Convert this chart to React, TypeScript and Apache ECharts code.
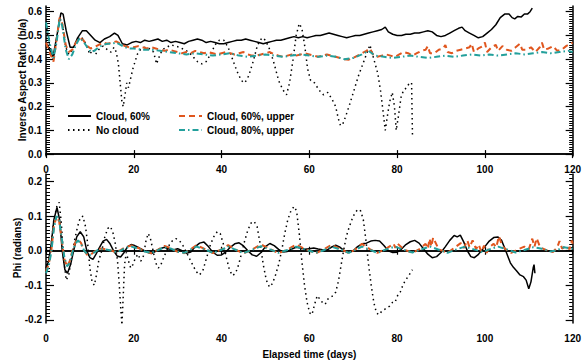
import React, { useEffect, useRef } from "react";
import * as echarts from "echarts";

// ---------- DATA (t in days, value) ----------
const xTicks = [0, 20, 40, 60, 80, 100, 120];
const topTicks = [0, 0.1, 0.2, 0.3, 0.4, 0.5, 0.6];
const botTicks = [-0.2, -0.1, 0, 0.1, 0.2];

const seriesNames = ["Cloud, 60%", "No cloud", "Cloud, 60%, upper", "Cloud, 80%, upper"];
const topYName = "Inverse Aspect Ratio (b/a)";
const botYName = "Phi (radians)";
const xName = "Elapsed time (days)";

// Top panel: inverse aspect ratio (b/a)
const cloud60Top: number[][] = [
  [0, 0.47], [0.8, 0.44], [1.6, 0.41], [2.5, 0.5], [3.4, 0.595], [3.9, 0.59], [4.6, 0.52], [5.5, 0.45], [6.3, 0.45],
  [7.2, 0.49], [8.3, 0.52], [9.2, 0.52], [10.2, 0.5], [11.2, 0.48], [12.3, 0.47], [13.3, 0.485], [14.5, 0.495],
  [15.6, 0.51], [16.4, 0.5], [17.4, 0.465], [18.5, 0.46], [19.5, 0.47], [20.5, 0.475], [21.5, 0.47], [22.5, 0.48],
  [23.5, 0.475], [24.5, 0.48], [25.5, 0.485], [26.5, 0.475], [27.5, 0.48], [28.5, 0.47], [29.5, 0.475], [30.5, 0.47],
  [31.5, 0.465], [32.5, 0.475], [33.5, 0.48], [34.5, 0.485], [35.5, 0.48], [36.5, 0.47], [37.5, 0.475], [38.5, 0.47],
  [39.5, 0.465], [40.5, 0.465], [41.5, 0.47], [42.5, 0.475], [43.5, 0.48], [44.5, 0.48], [45.5, 0.485], [46.5, 0.48],
  [47.5, 0.475], [48.5, 0.47], [49.5, 0.465], [50.5, 0.47], [51.5, 0.475], [52.5, 0.48], [53.5, 0.48], [54.5, 0.485],
  [55.5, 0.49], [56.5, 0.495], [57.5, 0.49], [58.5, 0.495], [59.5, 0.49], [60.5, 0.495], [61.5, 0.5], [62.5, 0.5],
  [63.5, 0.505], [64.5, 0.51], [65.5, 0.505], [66.5, 0.5], [67.5, 0.495], [68.5, 0.49], [69.5, 0.495], [70.5, 0.5],
  [71.5, 0.5], [72.5, 0.505], [73.5, 0.51], [74.5, 0.515], [75.5, 0.52], [76.5, 0.525], [77.3, 0.535], [78, 0.515],
  [79, 0.505], [80, 0.5], [81, 0.5], [82, 0.505], [83, 0.505], [84, 0.51], [85, 0.51], [86, 0.515], [87, 0.52],
  [88, 0.515], [89, 0.5], [90, 0.495], [91, 0.5], [92, 0.51], [93, 0.52], [94, 0.53], [94.8, 0.535], [95.5, 0.52],
  [96.5, 0.51], [97.5, 0.5], [98.5, 0.49], [99.5, 0.495], [100.5, 0.51], [101.5, 0.525], [102.5, 0.545],
  [103.5, 0.575], [104.5, 0.59], [105.5, 0.59], [106.2, 0.575], [106.8, 0.57], [107.5, 0.58], [108.3, 0.578],
  [109, 0.59], [109.7, 0.59], [110.3, 0.6], [110.8, 0.615],
];

const noCloudTop: number[][] = [
  [0, 0.55], [0.8, 0.46], [1.7, 0.4], [2.4, 0.48], [3.1, 0.575], [3.7, 0.55], [4.5, 0.45], [5.2, 0.42], [6, 0.44],
  [6.8, 0.47], [7.7, 0.495], [8.5, 0.485], [9.4, 0.45], [10, 0.42], [10.6, 0.44], [11.3, 0.42], [12, 0.44],
  [13, 0.455], [14, 0.44], [14.8, 0.43], [15.5, 0.45], [16, 0.43], [16.5, 0.38], [16.9, 0.3], [17.3, 0.22],
  [17.6, 0.2], [18, 0.25], [18.4, 0.3], [18.8, 0.28], [19.3, 0.32], [19.8, 0.36], [20.3, 0.39], [20.8, 0.42],
  [21.5, 0.44], [22.5, 0.45], [23.5, 0.445], [24.5, 0.43], [25.2, 0.38], [25.8, 0.41], [26.5, 0.44], [27.5, 0.45],
  [28.5, 0.46], [29.5, 0.455], [30.5, 0.45], [31.5, 0.44], [32.5, 0.43], [33.5, 0.41], [34.5, 0.39], [35.5, 0.38],
  [36.5, 0.39], [37.5, 0.42], [38.5, 0.46], [39.5, 0.48], [40.5, 0.48], [41.5, 0.45], [42.5, 0.4], [43.5, 0.35],
  [44.5, 0.31], [45.3, 0.3], [46.2, 0.33], [47.2, 0.39], [48.2, 0.46], [49.2, 0.49], [50, 0.48], [51, 0.44],
  [52, 0.38], [53, 0.31], [54, 0.27], [54.8, 0.25], [55.5, 0.3], [56.3, 0.4], [57, 0.5], [57.7, 0.55], [58.3, 0.53],
  [59, 0.45], [59.6, 0.36], [60.3, 0.31], [61.2, 0.3], [62.2, 0.27], [63.2, 0.25], [64.2, 0.26], [65.2, 0.23],
  [66, 0.2], [66.6, 0.15], [67.1, 0.12], [67.6, 0.125], [68.3, 0.16], [69.2, 0.21], [70.2, 0.27], [71.2, 0.33],
  [72.2, 0.38], [73.2, 0.43], [73.8, 0.46], [74.4, 0.42], [75, 0.38], [75.6, 0.34], [76.2, 0.27], [76.8, 0.18],
  [77.3, 0.1], [77.7, 0.15], [78.3, 0.22], [78.9, 0.26], [79.4, 0.2], [79.8, 0.1], [80.3, 0.16], [80.9, 0.24],
  [81.5, 0.27], [82.2, 0.28], [82.8, 0.3], [83.3, 0.3], [83.5, 0.08],
];

const cloud60UpperTop: number[][] = [
  [0, 0.47], [0.8, 0.43], [1.7, 0.39], [2.4, 0.48], [3.1, 0.575], [3.7, 0.55], [4.5, 0.46], [5.2, 0.43], [6, 0.44],
  [6.8, 0.47], [7.7, 0.49], [8.5, 0.48], [9.4, 0.455], [10.2, 0.445], [11, 0.45], [12, 0.46], [13, 0.47],
  [14, 0.465], [15, 0.47], [16, 0.475], [17, 0.465], [18, 0.455], [19, 0.45], [20, 0.45], [21, 0.455], [22, 0.45],
  [23, 0.445], [24, 0.45], [25, 0.445], [26, 0.44], [27, 0.435], [28, 0.44], [29, 0.435], [30, 0.43], [31, 0.425],
  [32, 0.43], [33, 0.425], [34, 0.435], [35, 0.43], [36, 0.425], [37, 0.43], [38, 0.425], [39, 0.42], [40, 0.425],
  [41, 0.43], [42, 0.425], [43, 0.42], [44, 0.425], [45, 0.43], [46, 0.42], [47, 0.415], [48, 0.415], [49, 0.42],
  [50, 0.425], [51, 0.43], [52, 0.42], [53, 0.415], [54, 0.41], [55, 0.415], [56, 0.42], [57, 0.415], [58, 0.42],
  [59, 0.425], [60, 0.42], [61, 0.415], [62, 0.41], [63, 0.415], [64, 0.42], [65, 0.415], [66, 0.41], [67, 0.405],
  [68, 0.4], [69, 0.398], [70, 0.405], [71, 0.415], [72, 0.425], [73, 0.435], [73.8, 0.445], [74.5, 0.42],
  [75.5, 0.41], [76.5, 0.415], [77.5, 0.42], [78.5, 0.415], [79.5, 0.41], [80.5, 0.42], [81.5, 0.43], [82.5, 0.425],
  [83.5, 0.415], [84.5, 0.425], [85.5, 0.435], [86.5, 0.44], [87, 0.455], [87.5, 0.425], [88.5, 0.425],
  [89.5, 0.44], [90.5, 0.445], [91, 0.46], [91.5, 0.43], [92.5, 0.425], [93.5, 0.435], [94.5, 0.44], [95.5, 0.445],
  [96.5, 0.45], [97, 0.465], [97.5, 0.43], [98.5, 0.445], [99.5, 0.455], [100, 0.47], [100.5, 0.43], [101.5, 0.45],
  [102.5, 0.46], [103, 0.435], [104, 0.455], [105, 0.44], [106, 0.435], [107, 0.45], [108, 0.465], [108.5, 0.44],
  [109.5, 0.44], [110.5, 0.45], [111.5, 0.43], [112.5, 0.45], [113, 0.47], [113.5, 0.44], [114.5, 0.445],
  [115.5, 0.455], [116.5, 0.435], [117.5, 0.44], [118.5, 0.455], [119.5, 0.465], [120, 0.47],
];

const cloud80UpperTop: number[][] = [
  [0, 0.555], [0.8, 0.47], [1.7, 0.405], [2.4, 0.47], [3.1, 0.57], [3.7, 0.54], [4.5, 0.44], [5.2, 0.4], [6, 0.42],
  [6.8, 0.46], [7.7, 0.49], [8.5, 0.475], [9.4, 0.45], [10.2, 0.43], [11, 0.435], [12, 0.45], [13, 0.46],
  [14, 0.465], [15, 0.465], [16, 0.47], [17, 0.46], [18, 0.45], [19, 0.445], [20, 0.445], [22, 0.44], [24, 0.44],
  [26, 0.435], [28, 0.43], [30, 0.425], [32, 0.42], [34, 0.425], [36, 0.42], [38, 0.415], [40, 0.42], [42, 0.425],
  [44, 0.415], [46, 0.41], [48, 0.415], [50, 0.42], [52, 0.415], [54, 0.41], [56, 0.415], [58, 0.42], [60, 0.415],
  [62, 0.41], [64, 0.415], [66, 0.41], [68, 0.4], [70, 0.405], [72, 0.42], [73.5, 0.435], [75, 0.415], [77, 0.41],
  [79, 0.405], [81, 0.41], [83, 0.415], [85, 0.41], [87, 0.405], [89, 0.41], [91, 0.415], [93, 0.41], [95, 0.415],
  [97, 0.42], [99, 0.415], [101, 0.42], [103, 0.415], [105, 0.42], [107, 0.425], [109, 0.42], [111, 0.425],
  [113, 0.43], [115, 0.425], [117, 0.43], [119, 0.435], [120, 0.43],
];

// Bottom panel: Phi (radians)
const cloud60Bot: number[][] = [
  [0, -0.05], [0.6, -0.03], [1.2, 0.02], [1.8, 0.09], [2.5, 0.125], [3.1, 0.09], [3.7, 0], [4.3, -0.055],
  [4.9, -0.065], [5.6, -0.04], [6.3, 0], [7, 0.04], [7.8, 0.055], [8.6, 0.04], [9.3, 0], [10, -0.02], [10.7, -0.025],
  [11.4, -0.01], [12.2, 0.01], [13, 0.028], [13.8, 0.033], [14.6, 0.02], [15.4, 0], [16.2, -0.015], [17, -0.018],
  [17.8, -0.005], [18.6, 0.012], [19.4, 0.018], [20.2, 0.015], [21, 0.01], [22, 0.003], [23, -0.004], [24, -0.008],
  [25, -0.002], [26, 0.006], [27, 0.01], [28, 0.005], [29, 0.002], [30, 0.006], [31, 0], [32, -0.007], [33, -0.004],
  [34, 0.012], [35, 0.022], [36, 0.025], [37, 0.012], [38, -0.004], [39, -0.013], [40, -0.012], [41, -0.003],
  [42, 0.01], [43, 0.02], [44, 0.023], [45, 0.014], [46, 0], [47, -0.012], [48, -0.016], [49, -0.005], [50, 0.012],
  [51, 0.021], [52, 0.015], [53, 0.004], [54, -0.004], [55, -0.002], [56, 0.005], [57, 0.01], [58, 0.008],
  [59, 0.004], [60, 0.006], [61, 0.008], [62, 0.005], [63, 0.003], [64, 0.002], [65, 0.01], [66, 0.016], [67, 0.01],
  [68, 0], [69, -0.005], [70, 0], [71, 0.012], [72, 0.02], [73, 0.022], [74, 0.028], [75, 0.03], [76, 0.028],
  [77, 0.015], [78, 0], [79, -0.005], [80, -0.004], [81, 0.005], [82, 0.018], [83, 0.026], [84, 0.03], [85, 0.022],
  [86, 0.006], [87, -0.01], [88, -0.02], [89, -0.017], [90, -0.005], [91, 0.012], [92, 0.03], [93, 0.044],
  [93.7, 0.04], [94.4, 0.045], [95.2, 0.025], [96, 0], [96.8, -0.017], [97.6, -0.02], [98.4, -0.012], [99.2, 0],
  [100, 0.012], [101, 0.028], [102, 0.038], [103, 0.04], [103.8, 0.03], [104.6, 0.005], [105.2, -0.015],
  [105.8, -0.035], [106.5, -0.048], [107.2, -0.058], [108, -0.07], [108.8, -0.075], [109.4, -0.085], [110, -0.11],
  [110.5, -0.09], [111, -0.05], [111.2, -0.04], [111.4, -0.065],
];

const noCloudBot: number[][] = [
  [0, -0.06], [0.6, -0.03], [1.2, 0.02], [1.8, 0.09], [2.5, 0.13], [3, 0.14], [3.5, 0.08], [4, -0.02], [4.6, -0.085],
  [5.2, -0.07], [5.8, -0.02], [6.5, 0.03], [7.2, 0.07], [7.8, 0.095], [8.4, 0.1], [9, 0.07], [9.5, 0.02], [10, -0.05],
  [10.5, -0.09], [11, -0.1], [11.5, -0.07], [12, -0.03], [12.7, 0], [13.4, 0.04], [14.1, 0.065], [14.7, 0.07],
  [15.3, 0.05], [15.8, 0.02], [16.3, -0.03], [16.7, -0.1], [17, -0.16], [17.3, -0.215], [17.6, -0.13], [17.9, -0.04],
  [18.3, -0.005], [18.8, -0.03], [19.3, -0.05], [19.8, -0.04], [20.4, -0.02], [21, -0.01], [21.6, -0.03],
  [22.2, -0.015], [22.8, 0.03], [23.3, 0.05], [23.8, 0.035], [24.4, 0], [25, -0.035], [25.6, -0.05], [26.2, -0.04],
  [26.8, -0.02], [27.5, 0], [28.2, 0.02], [28.9, 0.03], [29.6, 0.035], [30.3, 0.03], [31, 0.02], [31.8, 0],
  [32.6, -0.02], [33.4, -0.04], [34.2, -0.06], [35, -0.07], [35.8, -0.055], [36.6, -0.02], [37.4, 0.015],
  [38.2, 0.04], [39, 0.055], [39.7, 0.05], [40.4, 0.02], [41.1, -0.02], [41.8, -0.055], [42.5, -0.072],
  [43.2, -0.065], [43.9, -0.04], [44.6, -0.005], [45.3, 0.03], [46, 0.06], [46.7, 0.08], [47.4, 0.085], [48.1, 0.07],
  [48.8, 0.02], [49.5, -0.04], [50.2, -0.085], [50.9, -0.105], [51.6, -0.095], [52.3, -0.07], [53, -0.04], [53.7, 0],
  [54.4, 0.05], [55.1, 0.09], [55.8, 0.115], [56.5, 0.128], [57.1, 0.115], [57.7, 0.05], [58.3, -0.03], [58.9, -0.1],
  [59.5, -0.15], [60.1, -0.18], [60.6, -0.185], [61.2, -0.155], [61.8, -0.13], [62.4, -0.14], [63, -0.15],
  [63.6, -0.155], [64.2, -0.14], [64.8, -0.135], [65.4, -0.13], [66, -0.12], [66.6, -0.09], [67.2, -0.045],
  [67.8, 0], [68.4, 0.04], [69, 0.065], [69.7, 0.09], [70.4, 0.11], [71.1, 0.12], [71.7, 0.115], [72.3, 0.09],
  [72.9, 0.03], [73.5, -0.04], [74.1, -0.1], [74.7, -0.15], [75.3, -0.18], [75.9, -0.185], [76.5, -0.175],
  [77.1, -0.17], [77.7, -0.165], [78.3, -0.16], [78.9, -0.15], [79.5, -0.15], [80.1, -0.13], [80.7, -0.12],
  [81.3, -0.1], [81.9, -0.085], [82.5, -0.075], [83, -0.065], [83.5, -0.055],
];

const cloud60UpperBot: number[][] = [
  [0, -0.06], [0.6, -0.04], [1.2, 0], [1.8, 0.07], [2.4, 0.1], [3, 0.085], [3.6, 0.03], [4.2, -0.025], [4.8, -0.045],
  [5.4, -0.03], [6, 0], [6.7, 0.025], [7.3, 0.033], [8, 0.022], [8.7, 0], [9.4, -0.012], [10.1, -0.012], [11, -0.003],
  [12, 0.006], [13, 0.006], [14, 0.003], [15, 0], [16, -0.004], [17, 0.002], [18, 0.01], [19.5, 0.015], [21, 0.008],
  [22.5, -0.002], [24, -0.007], [25.5, 0.003], [27, 0.014], [28.5, 0.007], [30, -0.003], [31.5, -0.007],
  [33, 0.005], [34.3, 0.016], [36, 0.006], [38, -0.007], [40, 0.004], [41.5, 0.016], [43, 0.005], [45, -0.008],
  [47, 0.004], [49, 0.018], [51, 0.005], [53, -0.007], [55, 0.003], [57, 0.018], [59, 0.005], [61.5, -0.007],
  [63, 0.002], [65, 0.017], [67, 0.006], [69, -0.007], [70.5, 0.004], [72, 0.02], [74, 0.003], [75.5, -0.006],
  [77.5, 0.006], [79.2, 0.02], [79.6, 0.008], [80, 0.022], [81.5, 0.004], [83.5, -0.006], [85, 0.004], [86.5, 0.02],
  [87, 0.006], [87.4, 0.035], [87.8, 0.012], [88.2, 0.038], [89.5, 0.004], [91.5, -0.006], [93, 0.008],
  [94.5, 0.022], [95.2, 0.008], [96, 0.03], [96.5, 0.01], [97.2, 0.03], [98, 0.005], [98.6, 0.018], [99.2, -0.004],
  [99.8, 0.015], [100.4, -0.006], [101, 0.01], [102, 0.02], [102.6, 0.01], [103.2, 0.042], [104, 0.012],
  [105, 0.002], [106, -0.006], [107.5, 0.004], [109, 0.012], [110, 0.004], [110.8, 0.035], [111.3, 0.012],
  [111.8, 0.036], [112.6, 0.01], [114, 0.002], [115.5, -0.004], [116.5, 0.01], [117, 0.028], [117.6, 0.006],
  [118.5, 0.015], [119.3, 0.004], [119.8, 0.03], [120, 0.02],
];

const cloud80UpperBot: number[][] = [
  [0, -0.065], [0.6, -0.045], [1.2, -0.005], [1.8, 0.065], [2.4, 0.1], [3, 0.09], [3.6, 0.035], [4.2, -0.02],
  [4.8, -0.045], [5.4, -0.035], [6, -0.005], [6.7, 0.02], [7.3, 0.03], [8, 0.02], [8.7, 0], [9.4, -0.01],
  [10.1, -0.012], [11, -0.005], [12, 0.004], [13, 0.005], [14, 0.003], [15, 0], [16, -0.004], [17, 0], [18, 0.008],
  [19.5, 0.012], [21, 0.006], [22.5, -0.002], [24, -0.006], [25.5, 0.002], [27, 0.01], [28.5, 0.006], [30, -0.003],
  [31.5, -0.006], [33, 0.004], [34.3, 0.012], [36, 0.005], [38, -0.006], [40, 0.003], [41.5, 0.012], [43, 0.004],
  [45, -0.007], [47, 0.003], [49, 0.013], [51, 0.004], [53, -0.006], [55, 0.002], [57, 0.012], [59, 0.004],
  [61.5, -0.006], [63, 0], [65, 0.012], [67, 0.004], [69, -0.006], [70.5, 0.003], [72, 0.012], [74, 0.002],
  [75.5, -0.006], [77.5, 0.004], [79.5, 0.012], [81.5, 0.003], [83.5, -0.005], [85.5, 0.004], [87.5, 0.012],
  [89.5, 0.003], [91.5, -0.006], [93.5, 0.004], [95.5, 0.012], [97.5, 0.004], [99.5, -0.004], [101, 0.004],
  [103, 0.012], [105, 0.004], [107, -0.005], [109, 0.002], [111, 0.01], [113, 0.006], [115, -0.002], [116.5, 0.002],
  [118, 0.01], [120, 0.006],
];

// ---------- STYLE ----------
const FONT = "Liberation Sans";
const BLACK = "#000000";
const ORANGE = "#e0561e";
const TEAL = "#23a09c";

const topRange = { min: -0.008, max: 0.624 };
const botRange = { min: -0.209, max: 0.222 };

function minorValues(lo: number, hi: number): number[] {
  const out: number[] = [];
  for (let i = Math.round(lo * 100); i <= Math.round(hi * 100); i++) out.push(i / 100);
  return out;
}

const labelStyle = { color: BLACK, fontFamily: FONT, fontWeight: "bold" as const, fontSize: 10 };

function yAxes(gridIndex: number, range: { min: number; max: number }, ticks: number[]) {
  const minor = minorValues(ticks[0], range.max);
  const base = { type: "value", gridIndex, min: range.min, max: range.max, splitLine: { show: false } };
  return [
    {
      ...base,
      position: "left",
      axisLine: { show: true, lineStyle: { color: BLACK, width: 1.5 } },
      axisTick: { show: true, inside: true, length: 8, customValues: ticks, lineStyle: { color: BLACK, width: 1.2 } },
      axisLabel: { show: true, margin: 4, customValues: ticks, formatter: (v: number) => v.toFixed(1), ...labelStyle },
    },
    {
      ...base,
      position: "left",
      axisLine: { show: false },
      axisTick: { show: true, inside: true, length: 4, customValues: minor, lineStyle: { color: BLACK, width: 1 } },
      axisLabel: { show: false },
    },
    {
      ...base,
      position: "right",
      axisLine: { show: true, lineStyle: { color: BLACK, width: 1.5 } },
      axisTick: { show: true, inside: true, length: 7, customValues: ticks, lineStyle: { color: BLACK, width: 1.2 } },
      axisLabel: { show: false },
    },
    {
      ...base,
      position: "right",
      axisLine: { show: false },
      axisTick: { show: true, inside: true, length: 3.5, customValues: minor, lineStyle: { color: BLACK, width: 1 } },
      axisLabel: { show: false },
    },
  ];
}

function xAxis(gridIndex: number, position: string, showLabels: boolean, margin: number, name?: string) {
  return {
    type: "value",
    gridIndex,
    position,
    min: 0,
    max: 120,
    interval: 20,
    splitLine: { show: false },
    name: name || "",
    nameLocation: "middle",
    nameGap: 26,
    nameTextStyle: labelStyle,
    axisLine: { show: true, lineStyle: { color: BLACK, width: 1.5 } },
    axisTick: { show: true, inside: true, length: 4, customValues: xTicks, lineStyle: { color: BLACK, width: 1.2 } },
    axisLabel: { show: showLabels, margin, customValues: xTicks, ...labelStyle },
  };
}

function lineSeries(name: string, data: number[][], xi: number, yi: number, kind: string) {
  let lineStyle: any = { color: BLACK, width: 1.5, type: "solid" };
  if (kind === "dot") lineStyle = { color: BLACK, width: 1.5, type: [1.5, 3.5], cap: "butt" };
  if (kind === "dash") lineStyle = { color: ORANGE, width: 2, type: [6, 4] };
  if (kind === "dashdot") lineStyle = { color: TEAL, width: 2, type: [6, 3, 1.5, 3] };
  return {
    type: "line",
    name,
    data,
    xAxisIndex: xi,
    yAxisIndex: yi,
    symbol: "none",
    showSymbol: false,
    color: lineStyle.color,
    lineStyle,
    smooth: false,
    clip: true,
    z: kind === "dashdot" ? 5 : kind === "dash" ? 4 : 3,
  };
}

const legendBase = {
  orient: "vertical",
  top: 111,
  padding: 0,
  itemGap: 4,
  itemWidth: 23,
  itemHeight: 10,
  itemStyle: { opacity: 0 },
  textStyle: labelStyle,
};

function yName(text: string, x: number, y: number) {
  return {
    type: "text",
    x,
    y,
    rotation: Math.PI / 2,
    style: {
      text,
      fill: BLACK,
      font: `bold 10px "${FONT}"`,
      align: "center",
      verticalAlign: "middle",
    },
  };
}

export default function App() {
  const ref = useRef<HTMLDivElement>(null);
  useEffect(() => {
    if (!ref.current) return;
    const chart = echarts.init(ref.current, null, { renderer: "svg" });
    const option: any = {
      animation: false,
      backgroundColor: "#ffffff",
      grid: [
        { left: 46, right: 10, top: 6, height: 150 },
        { left: 46, right: 10, top: 174, height: 149 },
      ],
      xAxis: [
        xAxis(0, "bottom", true, 8),
        xAxis(0, "top", false, 4),
        xAxis(1, "top", false, 4),
        xAxis(1, "bottom", true, 10, xName),
      ],
      yAxis: [...yAxes(0, topRange, topTicks), ...yAxes(1, botRange, botTicks)],
      graphic: [yName(topYName, 22, 80), yName(botYName, 17, 248)],
      legend: [
        { ...legendBase, data: [seriesNames[0], seriesNames[1]], left: 67 },
        { ...legendBase, data: [seriesNames[2], seriesNames[3]], left: 178 },
      ],
      series: [
        lineSeries(seriesNames[1], noCloudTop, 0, 0, "dot"),
        lineSeries(seriesNames[0], cloud60Top, 0, 0, "solid"),
        lineSeries(seriesNames[2], cloud60UpperTop, 0, 0, "dash"),
        lineSeries(seriesNames[3], cloud80UpperTop, 0, 0, "dashdot"),
        lineSeries(seriesNames[1], noCloudBot, 3, 4, "dot"),
        lineSeries(seriesNames[0], cloud60Bot, 3, 4, "solid"),
        lineSeries(seriesNames[2], cloud60UpperBot, 3, 4, "dash"),
        lineSeries(seriesNames[3], cloud80UpperBot, 3, 4, "dashdot"),
      ],
    };
    chart.setOption(option);
    return () => chart.dispose();
  }, []);
  return <div ref={ref} style={{ position: "fixed", left: 0, top: 0, width: 584, height: 364 }} />;
}
